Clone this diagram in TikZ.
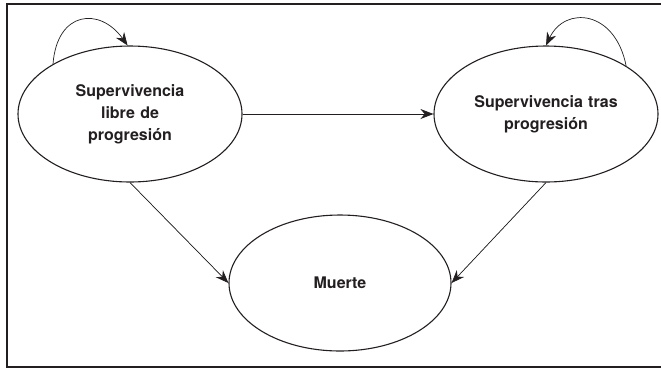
\documentclass[tikz,border=0pt]{standalone}
\usepackage{fontspec}
\setmainfont{TeX Gyre Heros}
\usetikzlibrary{shapes.geometric,arrows.meta}
\definecolor{ink}{RGB}{35,31,32}
\begin{document}
\begin{tikzpicture}[x=1pt,y=-1pt,
  state/.style={ellipse,draw=ink,text=ink,line width=1.1pt,minimum width=224pt,minimum height=136pt,inner sep=0pt,
    align=center,text width=150pt,font=\fontsize{16}{22}\selectfont\bfseries},
  conn/.style={draw=ink,fill=ink,line width=0.7pt,-{Stealth[length=13pt,width=10pt]}}]
\useasboundingbox (0,0) rectangle (661,368);
\draw[ink,line width=2.4pt] (7,4) rectangle (672,367);
\node[state] (L) at (130,114) {Supervivencia\\libre de\\progresión};
\node[state] (R) at (546,114) {Supervivencia tras\\progresión};
\node[state,minimum width=222pt] (M) at (340,283) {Muerte};
\draw[conn] (L) -- (R);
\draw[conn] (L.south) -- (M.west);
\draw[conn] (R.south) -- (M.east);
\draw[conn,fill=none] (L.147) .. controls +(4,-53) and +(-28,-39) .. (L.92);
\draw[conn,fill=none] (R.31) .. controls +(-11,-56) and +(19,-40) .. (R.90);
\end{tikzpicture}
\end{document}
